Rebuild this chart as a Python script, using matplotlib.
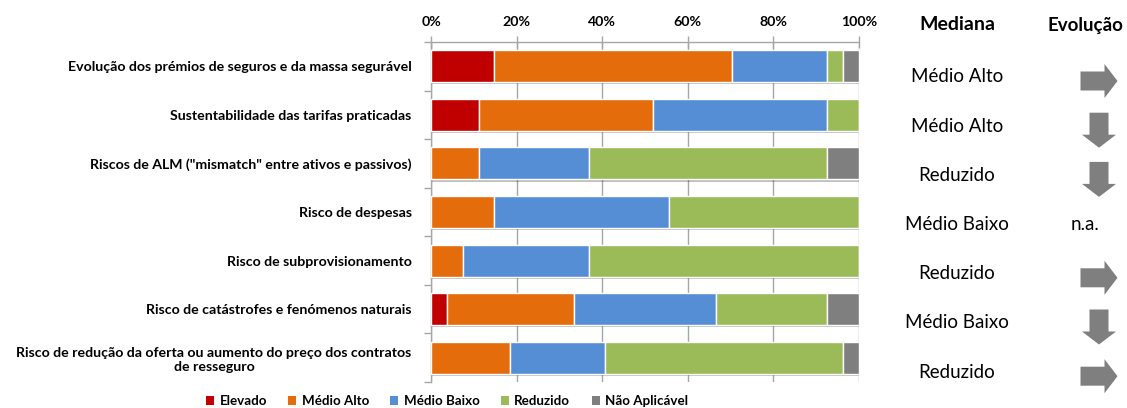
import matplotlib
matplotlib.use("Agg")
import matplotlib.pyplot as plt
import matplotlib.patheffects as pe
from matplotlib.patches import Polygon, Patch
import numpy as np

# Risk categories (top to bottom)
categories = [
    "Evolução dos prémios de seguros e da massa segurável",
    "Sustentabilidade das tarifas praticadas",
    "Riscos de ALM (\"mismatch\" entre ativos e passivos)",
    "Risco de despesas",
    "Risco de subprovisionamento",
    "Risco de catástrofes e fenómenos naturais",
    "Risco de redução da oferta ou aumento do preço dos contratos\nde resseguro",
]

# Share of answers per risk level (%)
elevado = [14.8, 11.1, 0.0, 0.0, 0.0, 3.7, 0.0]
medio_alto = [55.6, 40.7, 11.1, 14.8, 7.4, 29.6, 18.5]
medio_baixo = [22.2, 40.7, 25.9, 40.7, 29.6, 33.3, 22.2]
reduzido = [3.7, 7.4, 55.6, 44.4, 63.0, 25.9, 55.6]
nao_aplicavel = [3.7, 0.0, 7.4, 0.0, 0.0, 7.4, 3.7]

series_names = ["Elevado", "Médio Alto", "Médio Baixo", "Reduzido", "Não Aplicável"]
series_colors = ["#C00000", "#E46C0A", "#558ED5", "#9BBB59", "#7F7F7F"]

x_ticks = [0, 20, 40, 60, 80, 100]
x_tick_labels = ["0%", "20%", "40%", "60%", "80%", "100%"]

mediana = ["Médio Alto", "Médio Alto", "Reduzido", "Médio Baixo",
           "Reduzido", "Médio Baixo", "Reduzido"]
evolucao = ["right", "down", "down", "n.a.", "right", "down", "right"]

W, H = 1127, 408
fig = plt.figure(figsize=(W / 100, H / 100), dpi=100)
fig.patch.set_facecolor("white")

label_font = ["Lato", "DejaVu Sans"]
text_font = ["Lato", "DejaVu Sans"]

ax = fig.add_axes([431 / W, 1 - 382 / H, 428 / W, 340 / H])

series = [elevado, medio_alto, medio_baixo, reduzido, nao_aplicavel]
y = np.arange(len(categories))
left = np.zeros(len(categories))
shadow = [pe.SimplePatchShadow(offset=(0.8, -1.5), shadow_rgbFace="#000000", alpha=0.25), pe.Normal()]
for vals, name, col in zip(series, series_names, series_colors):
    vals = np.array(vals)
    bars = ax.barh(y, vals, left=left, height=0.66, color=col,
                   edgecolor="white", linewidth=1.0, label=name, zorder=3)
    for b in bars:
        b.set_path_effects(shadow)
    left = left + vals

ax.set_xlim(0, 100)
ax.set_ylim(len(categories) - 0.5, -0.5)

ax.xaxis.set_ticks_position("top")
ax.xaxis.set_label_position("top")
ax.set_xticks(x_ticks)
ax.set_xticklabels(x_tick_labels, fontfamily=label_font, fontweight="bold", fontsize=10.2)
ax.tick_params(axis="x", which="major", direction="inout", length=8, width=1,
               color="#A6A6A6", pad=6)
ax.grid(axis="x", color="#A6A6A6", linewidth=1, zorder=0)

ax.set_yticks(y)
ax.set_yticklabels(categories, fontfamily=label_font, fontweight="bold",
                   fontsize=10.2, multialignment="center")
ax.set_yticks(np.arange(len(categories) + 1) - 0.5, minor=True)
ax.tick_params(axis="y", which="major", length=0, pad=14)
ax.tick_params(axis="y", which="minor", length=5, width=1, color="#A6A6A6",
               direction="out")

for s in ["right", "bottom"]:
    ax.spines[s].set_visible(False)
for s in ["top", "left"]:
    ax.spines[s].set_color("#A6A6A6")
    ax.spines[s].set_linewidth(1)

# Legend below the bars
handles = [Patch(facecolor=c, edgecolor="none") for c in series_colors]
fig.legend(handles, series_names, loc="center", bbox_to_anchor=(447 / W, 1 - 401 / H),
           ncol=5, frameon=False, handlelength=0.6, handleheight=0.6,
           handletextpad=0.4, columnspacing=1.6,
           prop={"family": label_font, "weight": "bold", "size": 9.6})

# Right-hand columns in pixel coordinates
ov = fig.add_axes([0, 0, 1, 1], facecolor="none")
ov.set_xlim(0, W)
ov.set_ylim(H, 0)
ov.axis("off")

med_x, evo_x, arrow_x = 957, 1085, 1099
ov.text(med_x, 25, "Mediana", ha="center", va="center", fontsize=14,
        fontweight="bold", fontfamily=text_font)
ov.text(evo_x, 25, "Evolução", ha="center", va="center", fontsize=13.5,
        fontweight="bold", fontfamily=text_font)

row_y0, row_step = 77, 49.2
arrow_color = "#7F7F7F"
for i, (m, e) in enumerate(zip(mediana, evolucao)):
    ty = row_y0 + i * row_step
    ov.text(med_x, ty, m, ha="center", va="center", fontsize=13.5, fontfamily=text_font)
    cy = ty + 4
    if e == "right":
        w, h, sh, hl = 37, 34, 19, 13
        x0 = arrow_x - w / 2
        pts = [(x0, cy - sh / 2), (x0 + w - hl, cy - sh / 2), (x0 + w - hl, cy - h / 2),
               (x0 + w, cy), (x0 + w - hl, cy + h / 2), (x0 + w - hl, cy + sh / 2),
               (x0, cy + sh / 2)]
        ov.add_patch(Polygon(pts, closed=True, facecolor=arrow_color, edgecolor="none"))
    elif e == "down":
        w, h, sw, hl = 34, 35, 19, 13
        y0 = cy - h / 2
        pts = [(arrow_x - sw / 2, y0), (arrow_x + sw / 2, y0), (arrow_x + sw / 2, y0 + h - hl),
               (arrow_x + w / 2, y0 + h - hl), (arrow_x, y0 + h), (arrow_x - w / 2, y0 + h - hl),
               (arrow_x - sw / 2, y0 + h - hl)]
        ov.add_patch(Polygon(pts, closed=True, facecolor=arrow_color, edgecolor="none"))
    else:
        ov.text(evo_x, ty, e, ha="center", va="center", fontsize=13.5, fontfamily=text_font)

fig.savefig("out.png", dpi=100, facecolor="white")
